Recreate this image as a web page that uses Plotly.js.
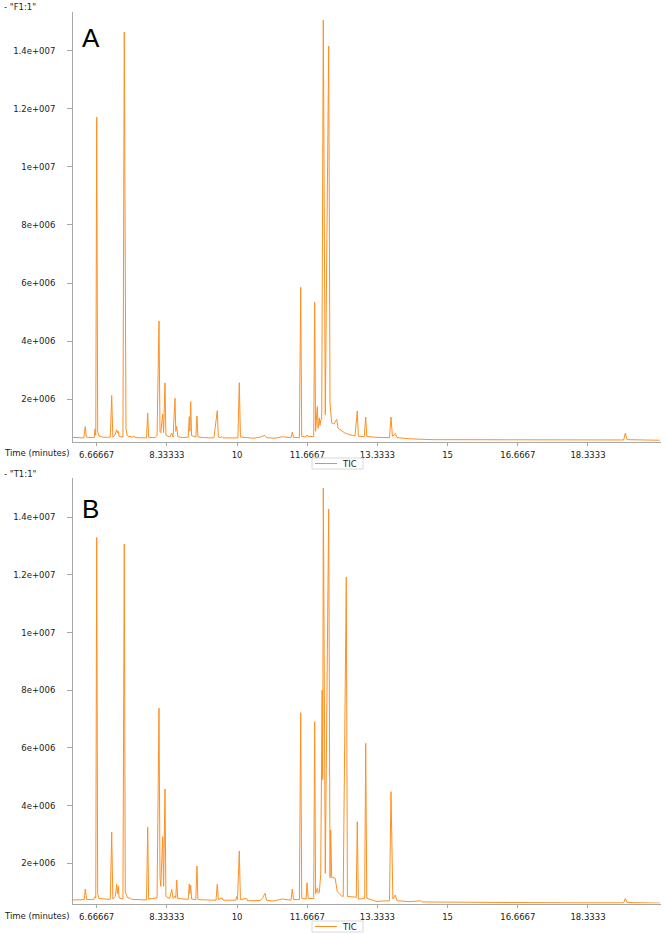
<!DOCTYPE html>
<html>
<head>
<meta charset="utf-8">
<script src="https://cdn.plot.ly/plotly-3.0.1.min.js"></script>
<style>
  html, body { margin: 0; padding: 0; background: #ffffff; overflow: hidden; }
  #chart { width: 666px; height: 934px; }
</style>
</head>
<body>
<div id="chart"></div>
<script>
// ---- Data: retention time (minutes) and total ion current ----
const timeA = [6.10, 6.30, 6.36, 6.395, 6.42, 6.55, 6.61, 6.626, 6.645, 6.667, 6.69, 6.72, 6.80, 6.90, 6.99, 7.023, 7.05, 7.10, 7.141, 7.16, 7.18, 7.20, 7.29, 7.322, 7.345, 7.362, 7.39, 7.43, 7.457, 7.50, 7.552, 7.60, 7.85, 7.878, 7.90, 8.05, 8.10, 8.146, 8.17, 8.19, 8.234, 8.255, 8.289, 8.31, 8.40, 8.448, 8.48, 8.526, 8.545, 8.567, 8.59, 8.70, 8.84, 8.866, 8.88, 8.899, 8.92, 9.02, 9.048, 9.07, 9.20, 9.45, 9.53, 9.555, 9.60, 9.642, 9.67, 10.02, 10.053, 10.08, 10.229, 10.40, 10.55, 10.62, 10.66, 10.70, 10.90, 11.074, 11.28, 11.312, 11.34, 11.48, 11.511, 11.535, 11.63, 11.661, 11.69, 11.82, 11.843, 11.865, 11.905, 11.925, 11.953, 11.97, 11.986, 12.01, 12.048, 12.095, 12.176, 12.207, 12.247, 12.30, 12.366, 12.40, 12.45, 12.56, 12.65, 12.80, 12.855, 12.88, 13.02, 13.055, 13.08, 13.30, 13.62, 13.655, 13.69, 13.757, 13.80, 14.10, 14.65, 15.50, 16.30, 16.50, 17.43, 18.60, 19.18, 19.219, 19.26, 20.04];
const ticA = [690000, 660000, 670000, 1060000, 700000, 680000, 690000, 975000, 760000, 11717000, 900000, 740000, 700000, 690000, 700000, 2130000, 700000, 760000, 950000, 850000, 900000, 720000, 700000, 14643000, 1000000, 980000, 760000, 720000, 730000, 700000, 720000, 680000, 670000, 1528000, 690000, 680000, 750000, 4695000, 900000, 850000, 1494000, 850000, 2561000, 760000, 700000, 830000, 700000, 2035000, 900000, 1070000, 720000, 680000, 700000, 1400000, 900000, 1918000, 750000, 700000, 1425000, 700000, 680000, 670000, 1610000, 700000, 680000, 720000, 670000, 670000, 2570000, 700000, 680000, 660000, 700000, 740000, 760000, 680000, 660000, 710000, 680000, 870000, 690000, 680000, 5855000, 720000, 700000, 770000, 720000, 720000, 5339000, 900000, 1745000, 1000000, 1356000, 1100000, 1288000, 1300000, 15057000, 1470000, 14162000, 1873000, 1184000, 1150000, 1310000, 1000000, 940000, 840000, 790000, 740000, 1600000, 730000, 710000, 1390000, 720000, 690000, 680000, 1390000, 720000, 820000, 680000, 640000, 610000, 610000, 625000, 610000, 605000, 600000, 600000, 830000, 610000, 590000];

const timeB = [6.10, 6.30, 6.37, 6.395, 6.43, 6.60, 6.626, 6.645, 6.667, 6.69, 6.72, 6.99, 7.023, 7.05, 7.11, 7.141, 7.16, 7.18, 7.20, 7.29, 7.322, 7.345, 7.362, 7.40, 7.457, 7.50, 7.85, 7.878, 7.90, 8.10, 8.146, 8.17, 8.19, 8.234, 8.255, 8.289, 8.31, 8.40, 8.448, 8.48, 8.526, 8.545, 8.567, 8.59, 8.84, 8.866, 8.88, 8.899, 8.92, 9.02, 9.048, 9.07, 9.50, 9.53, 9.555, 9.642, 9.67, 9.97, 9.99, 10.01, 10.053, 10.08, 10.229, 10.25, 10.55, 10.60, 10.663, 10.70, 10.85, 11.074, 11.28, 11.312, 11.34, 11.48, 11.511, 11.535, 11.64, 11.661, 11.69, 11.82, 11.843, 11.865, 11.905, 11.93, 11.953, 11.986, 12.02, 12.035, 12.048, 12.095, 12.176, 12.207, 12.223, 12.247, 12.33, 12.38, 12.48, 12.52, 12.594, 12.62, 12.78, 12.83, 12.855, 12.88, 12.97, 13.03, 13.055, 13.08, 13.30, 13.62, 13.655, 13.70, 13.757, 13.80, 14.10, 14.33, 14.36, 14.40, 15.00, 16.50, 18.00, 19.18, 19.219, 19.26, 20.04];
const ticB = [727000, 720000, 740000, 1109000, 740000, 750000, 842000, 800000, 13300000, 950000, 780000, 750000, 3086000, 760000, 850000, 1270000, 950000, 1200000, 800000, 760000, 13070000, 1000000, 950000, 800000, 800000, 750000, 730000, 3250000, 760000, 800000, 7380000, 1500000, 1200000, 2924000, 1200000, 4577000, 850000, 780000, 1097000, 780000, 866000, 800000, 1421000, 780000, 750000, 1283000, 950000, 1237000, 760000, 740000, 1907000, 740000, 720000, 1270000, 740000, 800000, 720000, 720000, 840000, 740000, 2426000, 740000, 780000, 700000, 710000, 780000, 960000, 720000, 690000, 760000, 720000, 1109000, 740000, 740000, 7223000, 780000, 760000, 1327000, 780000, 780000, 6910000, 950000, 1130000, 960000, 1000000, 1600000, 8010000, 4900000, 15016000, 1650000, 14288000, 1500000, 3155000, 1515000, 1480000, 1016000, 870000, 850000, 11930000, 850000, 830000, 820000, 3443000, 760000, 770000, 780000, 6162000, 790000, 680000, 700000, 4484000, 760000, 900000, 700000, 670000, 680000, 700000, 660000, 650000, 640000, 630000, 630000, 780000, 640000, 620000];

const seriesName = "TIC";
const panelTitles = ['- "F1:1"', '- "T1:1"'];
const panelLetters = ["A", "B"];
const xAxisTitle = "Time (minutes)";

const xTickVals = [6.66667, 8.33333, 10, 11.6667, 13.3333, 15, 16.6667, 18.3333];
const xTickText = ["6.66667", "8.33333", "10", "11.6667", "13.3333", "15", "16.6667", "18.3333"];
const yTickVals = [2e6, 4e6, 6e6, 8e6, 1e7, 1.2e7, 1.4e7];
const yTickText = ["2e+006", "4e+006", "6e+006", "8e+006", "1e+007", "1.2e+007", "1.4e+007"];

// ---- Styling ----
const W = 666, H = 934;
const FONT = "DejaVu Sans, Verdana, sans-serif";
const LINE = "#ff8f22";
const AXC = "#a8a8a8";
const px = v => v / W;
const py = v => 1 - v / H;

const xBase = {
  range: [6.104, 20.067],
  domain: [px(73), px(661)],
  tickmode: "array", tickvals: xTickVals, ticktext: xTickText,
  showgrid: false, zeroline: false,
  showline: true, linecolor: AXC, linewidth: 1,
  ticks: "outside", ticklen: 3, tickcolor: AXC,
  tickfont: {family: FONT, size: 8.5, color: "#222"},
  ticklabelstandoff: 2,
  automargin: false,
  fixedrange: true
};
const yBase = {
  tickmode: "array", tickvals: yTickVals, ticktext: yTickText,
  showgrid: false, zeroline: false,
  showline: true, linecolor: AXC, linewidth: 1,
  ticks: "outside", ticklen: 5, tickcolor: AXC,
  tickfont: {family: FONT, size: 8.5, color: "#222"},
  ticklabelstandoff: 10,
  automargin: false,
  fixedrange: true
};

const data = [
  {x: timeA, y: ticA, type: "scatter", mode: "lines", name: seriesName,
   line: {color: LINE, width: 1}, xaxis: "x", yaxis: "y", showlegend: false},
  {x: timeB, y: ticB, type: "scatter", mode: "lines", name: seriesName,
   line: {color: LINE, width: 1}, xaxis: "x2", yaxis: "y2", showlegend: false}
];

// legend boxes (drawn as shapes + text, one per panel)
function legendShapes(top) {
  return [
    {type: "rect", xref: "paper", yref: "paper", x0: px(312), x1: px(363), y0: py(top), y1: py(top + 11),
     line: {color: "#d9d9d9", width: 1}, fillcolor: "#ffffff"},
    {type: "line", xref: "paper", yref: "paper", x0: px(315), x1: px(337), y0: py(top + 5.5), y1: py(top + 5.5),
     line: {color: LINE, width: 1}}
  ];
}
function legendText(top) {
  return {text: seriesName, xref: "paper", yref: "paper", x: px(340), y: py(top + 5.5), xanchor: "left", yanchor: "middle",
          showarrow: false, font: {family: FONT, size: 8.5, color: "#222"}};
}

const layout = {
  width: W, height: H,
  margin: {l: 0, r: 0, t: 0, b: 0, autoexpand: false},
  paper_bgcolor: "#ffffff", plot_bgcolor: "#ffffff",
  showlegend: false,
  xaxis: Object.assign({}, xBase, {anchor: "y"}),
  yaxis: Object.assign({}, yBase, {anchor: "x", domain: [py(441.5), py(12)], range: [547000, 15332000]}),
  xaxis2: Object.assign({}, xBase, {anchor: "y2"}),
  yaxis2: Object.assign({}, yBase, {anchor: "x2", domain: [py(903.5), py(478.3)], range: [606000, 15353000]}),
  shapes: legendShapes(458).concat(legendShapes(921)),
  annotations: [
    {text: panelTitles[0], xref: "paper", yref: "paper", x: px(2), y: py(7.5), xanchor: "left", yanchor: "middle", showarrow: false, font: {family: FONT, size: 8.5, color: "#222"}},
    {text: panelTitles[1], xref: "paper", yref: "paper", x: px(2), y: py(474), xanchor: "left", yanchor: "middle", showarrow: false, font: {family: FONT, size: 8.5, color: "#222"}},
    {text: panelLetters[0], xref: "paper", yref: "paper", x: px(80), y: py(38.5), xanchor: "left", yanchor: "middle", showarrow: false, font: {family: "Liberation Sans, Arial, sans-serif", size: 26, color: "#000"}},
    {text: panelLetters[1], xref: "paper", yref: "paper", x: px(80), y: py(508.5), xanchor: "left", yanchor: "middle", showarrow: false, font: {family: "Liberation Sans, Arial, sans-serif", size: 26, color: "#000"}},
    {text: xAxisTitle, xref: "paper", yref: "paper", x: px(72), y: py(453), xanchor: "right", yanchor: "middle", showarrow: false, font: {family: FONT, size: 8.5, color: "#222"}},
    {text: xAxisTitle, xref: "paper", yref: "paper", x: px(72), y: py(915.5), xanchor: "right", yanchor: "middle", showarrow: false, font: {family: FONT, size: 8.5, color: "#222"}},
    legendText(458),
    legendText(921)
  ]
};

Plotly.newPlot("chart", data, layout, {displayModeBar: false, staticPlot: true});
</script>
</body>
</html>
